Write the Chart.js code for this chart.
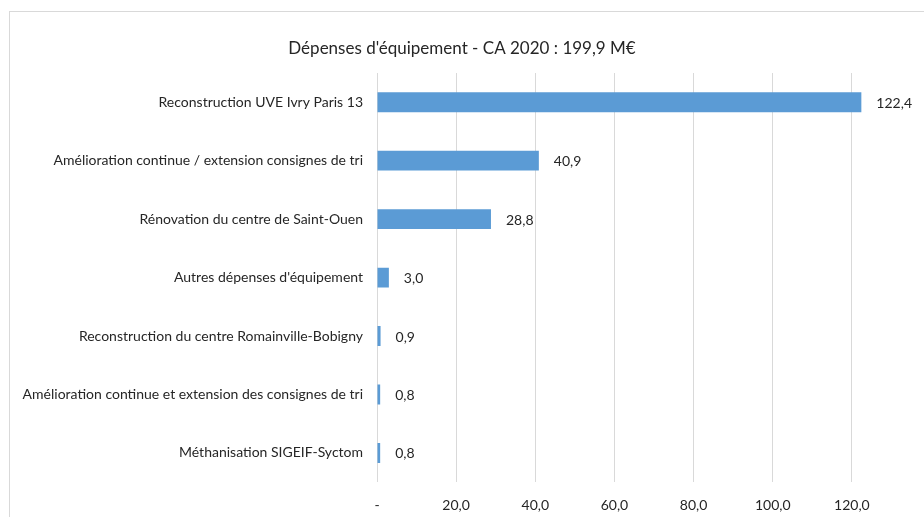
<!DOCTYPE html>
<html lang="fr">
<head>
<meta charset="utf-8">
<title>Dépenses d'équipement - CA 2020</title>
<script src="https://cdn.jsdelivr.net/npm/chart.js@4.4.1/dist/chart.umd.min.js"></script>
<style>
  html, body { margin: 0; padding: 0; background: #fff; }
  body { width: 924px; height: 517px; overflow: hidden; position: relative; }
  #wrap {
    position: absolute; left: 9px; top: 11px;
    width: 990px; height: 540px;
    border: 1px solid #d9d9d9; box-sizing: border-box;
  }
  #chart { display: block; }
</style>
</head>
<body>
<div id="wrap"><canvas id="chart" width="988" height="538"></canvas></div>
<script>
const chartTitle = "Dépenses d'équipement - CA 2020 : 199,9 M€";

const categories = [
  'Reconstruction UVE Ivry Paris 13',
  'Amélioration continue / extension consignes de tri',
  'Rénovation du centre de Saint-Ouen',
  "Autres dépenses d'équipement",
  'Reconstruction du centre Romainville-Bobigny',
  'Amélioration continue et extension des consignes de tri',
  'Méthanisation SIGEIF-Syctom'
];

const amounts = [122.4, 40.9, 28.8, 3.0, 0.9, 0.8, 0.8];

const axisMin = 0;
const axisMax = 140;
const axisStep = 20;
const lastShownTick = 120; // 140 falls outside the cropped picture

const textColor = '#262626';
const fontFamily = "Lato, 'Open Sans', sans-serif";

function frNumber(v) {
  return v.toFixed(1).replace('.', ',');
}

// Excel-style title, centred on the original chart frame
const titlePlugin = {
  id: 'frameTitle',
  afterDraw(chart) {
    const ctx = chart.ctx;
    ctx.save();
    ctx.font = "17px " + fontFamily;
    ctx.fillStyle = textColor;
    ctx.textAlign = 'center';
    ctx.textBaseline = 'middle';
    ctx.fillText(chartTitle, 452, 37);
    ctx.restore();
  }
};

// value labels at the end of each bar
const barLabels = {
  id: 'barLabels',
  afterDatasetsDraw(chart) {
    const ctx = chart.ctx;
    const meta = chart.getDatasetMeta(0);
    ctx.save();
    ctx.font = "14px " + fontFamily;
    ctx.fillStyle = textColor;
    ctx.textAlign = 'left';
    ctx.textBaseline = 'middle';
    meta.data.forEach((bar, i) => {
      ctx.fillText(frNumber(amounts[i]), bar.x + 15, bar.y + 1);
    });
    ctx.restore();
  }
};

new Chart(document.getElementById('chart'), {
  type: 'bar',
  data: {
    labels: categories,
    datasets: [{
      data: amounts,
      backgroundColor: '#5b9bd5',
      borderWidth: 0,
      categoryPercentage: 1,
      barPercentage: 0.34
    }]
  },
  options: {
    indexAxis: 'y',
    responsive: false,
    animation: false,
    layout: {
      padding: { top: 61, right: 67, bottom: 21, left: 0 }
    },
    plugins: {
      legend: { display: false },
      title: { display: false },
      tooltip: { enabled: false }
    },
    scales: {
      x: {
        min: axisMin,
        max: axisMax,
        grid: { color: '#d9d9d9', lineWidth: 1, drawTicks: false },
        border: { display: false },
        ticks: {
          stepSize: axisStep,
          padding: 15,
          color: textColor,
          font: { family: fontFamily, size: 14 },
          maxRotation: 0,
          callback: v => (v === 0 ? '-' : (v > lastShownTick ? '' : frNumber(v)))
        }
      },
      y: {
        grid: { display: false, drawTicks: false },
        border: { display: false },
        afterFit(scale) { scale.width = 367; },
        ticks: {
          padding: 14,
          color: textColor,
          font: { family: fontFamily, size: 14 },
          autoSkip: false
        }
      }
    }
  },
  plugins: [titlePlugin, barLabels]
});
</script>
</body>
</html>
